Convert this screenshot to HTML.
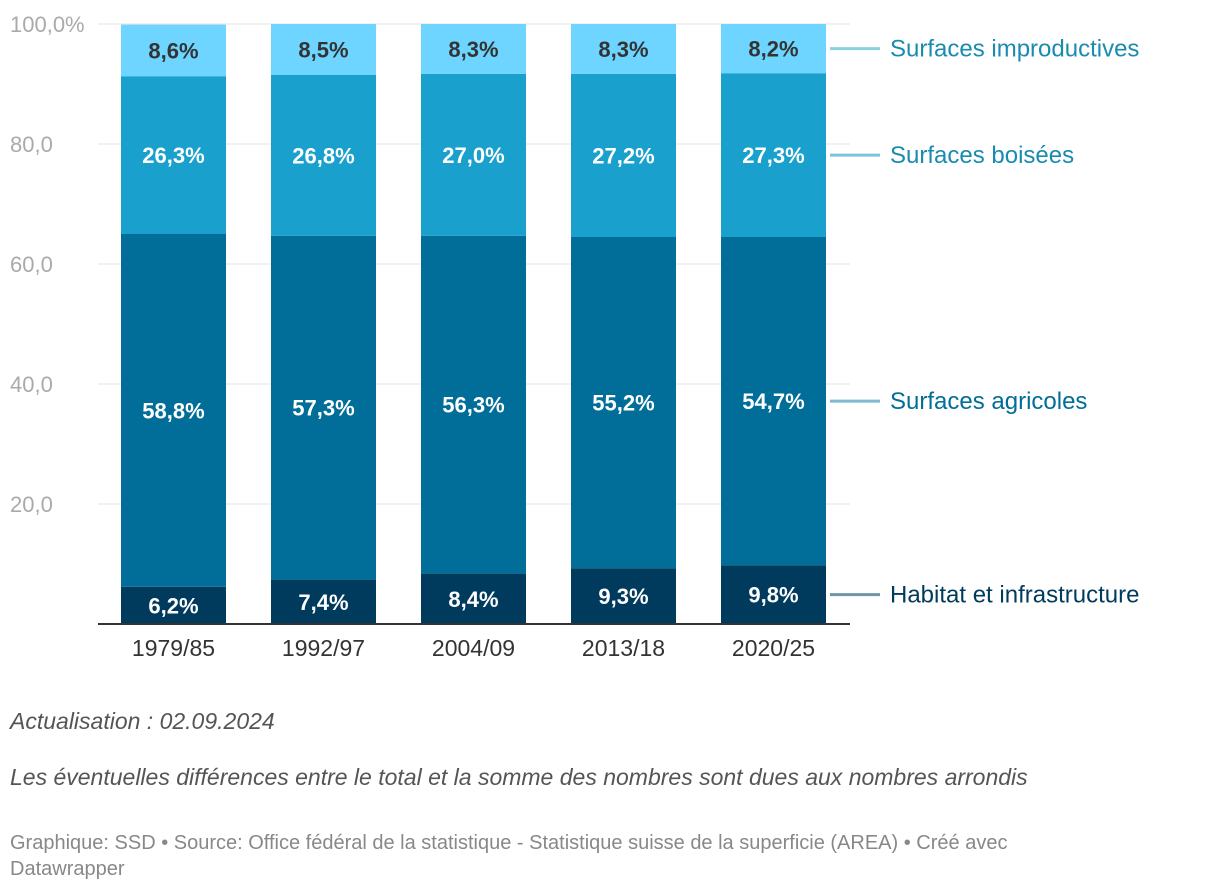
<!DOCTYPE html>
<html><head><meta charset="utf-8">
<style>
body{margin:0;background:#fff;font-family:"Liberation Sans",sans-serif;}
.note{position:absolute;left:10px;font-style:italic;color:#555;font-size:23px;}
</style></head>
<body>
<div style="position:relative;width:1220px;height:892px;">
<svg id="chart" width="1220" height="690" style="position:absolute;left:0;top:0"></svg>
<div class="note" style="top:708px">Actualisation : 02.09.2024</div>
<div class="note" style="top:764px">Les éventuelles différences entre le total et la somme des nombres sont dues aux nombres arrondis</div>
<div style="position:absolute;left:10px;top:830px;width:1085px;color:#888;font-size:20px;line-height:26px;">Graphique: SSD • Source: Office fédéral de la statistique - Statistique suisse de la superficie (AREA) • Créé avec Datawrapper</div>
</div>
<script>
const categories=["1979/85","1992/97","2004/09","2013/18","2020/25"];
const habitat=[6.2,7.4,8.4,9.3,9.8];
const agricoles=[58.8,57.3,56.3,55.2,54.7];
const boisees=[26.3,26.8,27.0,27.2,27.3];
const improductives=[8.6,8.5,8.3,8.3,8.2];
const seriesNames=["Habitat et infrastructure","Surfaces agricoles","Surfaces boisées","Surfaces improductives"];
const yTicks=[0,20,40,60,80,100];
const yTickLabels=["","20,0","40,0","60,0","80,0","100,0%"];

const series=[habitat,agricoles,boisees,improductives];
const colors=["#003a5d","#006e98","#1aa0cc","#6dd5ff"];
const textCols=["#fff","#fff","#fff","#333"];
const legCols=["#003a5d","#006e98","#1a8bb0","#1a8bb0"];
const lineCols=["#6f94a8","#7fb8cf","#7fc2dc","#8fcfe3"];
const svg=document.getElementById('chart');
const NS="http://www.w3.org/2000/svg";
const y=v=>624-v*6;
const x=i=>121+i*150;
const bw=105;
function mk(t,a){const e=document.createElementNS(NS,t);for(const k in a)e.setAttribute(k,a[k]);svg.appendChild(e);return e;}
yTicks.forEach((t,i)=>{
  if(t>0){const l=mk('line',{x1:98,x2:850,y1:y(t),y2:y(t),stroke:'#e3e3e3','stroke-width':1});
  
  }
  const tx=mk('text',{x:10,y:y(t)+8,fill:'#aaa','font-size':22});
  tx.textContent=yTickLabels[i];
  
  
});
categories.forEach((c,i)=>{
  let base=0;
  series.forEach((s,j)=>{
    const v=s[i];
    const r=mk('rect',{x:x(i),y:y(base+v),width:bw,height:v*6,fill:colors[j]});
    
    
    const t=mk('text',{x:x(i)+bw/2,y:y(base+v/2)+8,fill:textCols[j],'font-size':22,'font-weight':'bold','text-anchor':'middle'});
    t.textContent=v.toFixed(1).replace('.',',')+'%';
    
    
    base+=v;
  });
  const xl=mk('text',{x:x(i)+bw/2,y:656,fill:'#333','font-size':23,'text-anchor':'middle'});
  xl.textContent=c;
  
  
});
const ax=mk('line',{x1:98,x2:850,y1:624,y2:624,stroke:'#333','stroke-width':2});


let b=0;const li=categories.length-1;
series.forEach((s,j)=>{
  const v=s[li];const cy=y(b+v/2);b+=v;
  const l=mk('line',{x1:830,x2:880,y1:cy,y2:cy,stroke:lineCols[j],'stroke-width':3});
  
  
  const t=mk('text',{x:890,y:cy+8,fill:legCols[j],'font-size':24});
  t.textContent=seriesNames[j];
  
  
});
</script>
</body></html>
